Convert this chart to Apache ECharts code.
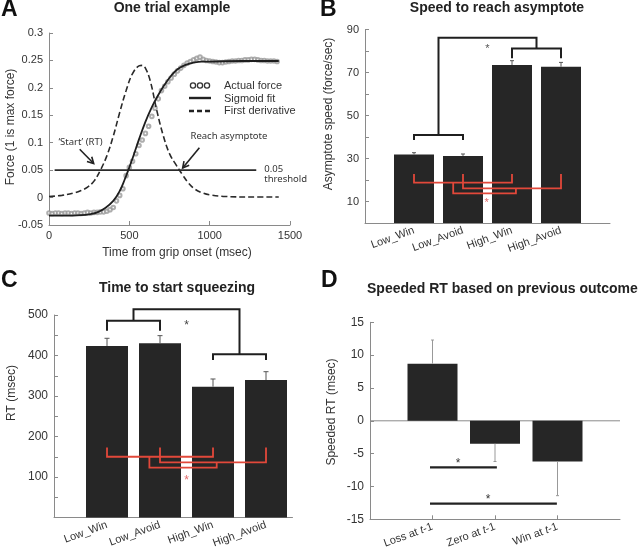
<!DOCTYPE html>
<html><head><meta charset="utf-8">
<script src="https://cdn.jsdelivr.net/npm/echarts@6/dist/echarts.min.js"></script>
<style>html,body{margin:0;padding:0;background:#fff}#c{width:640px;height:551px}</style>
</head><body><div id="c"></div>
<script>
// ---------- Panel A: One trial example ----------
const aActualForce = [
[0,-0.028],[20,-0.029],[40,-0.028],[60,-0.028],[80,-0.029],[100,-0.028],[120,-0.028],[140,-0.029],[160,-0.028],[180,-0.028],
[200,-0.029],[220,-0.028],[240,-0.027],[260,-0.028],[280,-0.027],[300,-0.027],[320,-0.026],[340,-0.026],[360,-0.025],[380,-0.022],
[400,-0.018],[420,-0.006],[440,0.004],[460,0.016],[480,0.040],[500,0.055],[520,0.066],[540,0.080],[560,0.095],[580,0.105],
[600,0.117],[620,0.130],[640,0.148],[660,0.163],[680,0.180],[700,0.195],[720,0.203],[740,0.211],[760,0.218],[780,0.225],
[800,0.231],[820,0.236],[840,0.241],[860,0.245],[880,0.248],[900,0.251],[920,0.254],[940,0.256],[960,0.252],[980,0.250],
[1000,0.249],[1020,0.248],[1040,0.247],[1060,0.246],[1080,0.246],[1100,0.247],[1120,0.248],[1140,0.249],[1160,0.249],[1180,0.250],
[1200,0.250],[1220,0.251],[1240,0.251],[1260,0.252],[1280,0.252],[1300,0.251],[1320,0.250],[1340,0.250],[1360,0.249],[1380,0.249],
[1400,0.249],[1420,0.248]];
const aSigmoidFit = [[0,-0.033],[100,-0.033],[200,-0.032],[260,-0.030],[300,-0.027],[350,-0.019],[400,-0.006],[440,0.012],[470,0.032],
[500,0.055],[530,0.080],[560,0.106],[600,0.138],[640,0.165],[680,0.187],[720,0.206],[760,0.222],[800,0.234],[850,0.242],[900,0.246],
[950,0.248],[1000,0.248],[1200,0.249],[1430,0.249]];
const aFirstDerivative = [[0,0.002],[80,0.004],[150,0.008],[200,0.013],[240,0.019],[280,0.030],[320,0.050],[360,0.076],[400,0.112],
[440,0.155],[480,0.195],[520,0.226],[560,0.240],[580,0.241],[600,0.236],[630,0.213],[670,0.160],[710,0.114],[750,0.080],[790,0.060],
[830,0.042],[870,0.026],[910,0.015],[960,0.008],[1000,0.005],[1100,0.002],[1250,0.001],[1430,0.001]];
const aThreshold = [[35,0.05],[1290,0.05]];
const aArrows = [[191,0.088,278,0.062],[936,0.091,832,0.054]];
const aNotes = [
  {text:'\u2018Start\u2019 (RT)', pos:[196,0.100], align:'center'},
  {text:'Reach asymptote', pos:[1120,0.1125], align:'center'},
  {text:'0.05', pos:[1340,0.051], align:'left'},
  {text:'threshold', pos:[1340,0.033], align:'left'}
];
const aLegendLabels = ['Actual force','Sigmoid fit','First derivative'];

// ---------- Panel B: Speed to reach asymptote ----------
const bCategories = ['Low_Win','Low_Avoid','High_Win','High_Avoid'];
const bValues = [31.9, 31.2, 73.5, 72.7];
const bErrTop = [32.7, 32.1, 75.5, 74.7];
const bBlackBrackets = [
  [[1,38.6],[1,40.9],[2,40.9],[2,38.6]],
  [[1.5,40.9],[1.5,86.2],[3.5,86.2],[3.5,81.2]],
  [[3,76.6],[3,81.2],[4,81.2],[4,76.6]]
];
const bRedBrackets = [
  [[1,22.8],[1,18.8],[3,18.8],[3,22.8]],
  [[2,22.8],[2,16.1],[4,16.1],[4,22.8]],
  [[1.8,18.8],[1.8,13.8],[3.08,13.8],[3.08,16.1]]
];
const bBlackStar = [[2.5,82.5]];
const bRedStar = [[2.48,10.7]];

// ---------- Panel C: Time to start squeezing ----------
const cCategories = ['Low_Win','Low_Avoid','High_Win','High_Avoid'];
const cValues = [423.5, 430, 323, 339.5];
const cErrTop = [442.5, 449, 342, 360];
const cBlackBrackets = [
  [[1,461],[1,486],[2,486],[2,461]],
  [[1.5,486],[1.5,514],[3.5,514],[3.5,403]],
  [[3,389],[3,403],[4,403],[4,389]]
];
const cRedBrackets = [
  [[1,173],[1,150],[3,150],[3,173]],
  [[2,173],[2,136],[4,136],[4,173]],
  [[1.8,150],[1.8,123],[3.07,123],[3.07,136]]
];
const cBlackStar = [[2.5,482]];
const cRedStar = [[2.5,99]];

// ---------- Panel D: Speeded RT based on previous outcome ----------
const dCategories = ['Loss at t-1','Zero at t-1','Win at t-1'];
const dValues = [8.7, -3.5, -6.2];
const dErrEnd = [12.3, -6.2, -11.4];
const dSigLines = [[[0.96,-7.1],[2.03,-7.1]], [[0.96,-12.6],[2.99,-12.6]]];
const dStars = [[1.41,-6.1],[1.89,-11.55]];
const dZeroLine = [[0,0],[4,0]];

// ---------- helpers ----------
const FONT = '"Liberation Sans", Arial, sans-serif';
const AXC = '#8a8a8a', TXT = '#333';
const RED = '#e2483a';

function errorSeries(gi, data, color, capHalf, lw) {
  return {type:'custom', xAxisIndex:gi, yAxisIndex:gi, data:data, encode:{x:0, y:[1,2]}, z:3, silent:true, clip:false,
    renderItem:function(params, api){
      const a = api.coord([api.value(0), api.value(1)]);
      const b = api.coord([api.value(0), api.value(2)]);
      return {type:'group', children:[
        {type:'line', shape:{x1:a[0],y1:a[1],x2:b[0],y2:b[1]}, style:{stroke:color, lineWidth:lw}},
        {type:'line', shape:{x1:b[0]-capHalf,y1:b[1],x2:b[0]+capHalf,y2:b[1]}, style:{stroke:color, lineWidth:lw}}
      ]};
    }};
}
function arrowSeries(gi, data, color, lw) {
  return {type:'custom', xAxisIndex:gi, yAxisIndex:gi, data:data, z:8, silent:true, clip:false,
    renderItem:function(params, api){
      const a = api.coord([api.value(0), api.value(1)]);
      const b = api.coord([api.value(2), api.value(3)]);
      const ang = Math.atan2(b[1]-a[1], b[0]-a[0]);
      const L = 7, w = 0.5;
      const p1 = [b[0] - L*Math.cos(ang - w), b[1] - L*Math.sin(ang - w)];
      const p2 = [b[0] - L*Math.cos(ang + w), b[1] - L*Math.sin(ang + w)];
      return {type:'group', children:[
        {type:'line', shape:{x1:a[0],y1:a[1],x2:b[0],y2:b[1]}, style:{stroke:color, lineWidth:lw}},
        {type:'polyline', shape:{points:[p1, b, p2]}, style:{stroke:color, fill:'none', lineWidth:lw}}
      ]};
    }};
}
function lineSeries(gi, pts, color, width, extra) {
  return Object.assign({type:'line', xAxisIndex:gi, yAxisIndex:gi, data:pts, symbol:'none', showSymbol:false, silent:true, clip:false,
    lineStyle:{color:color, width:width, join:'miter', cap:'butt'}, z:5, animation:false}, extra || {});
}
function textSeries(gi, pts, texts, color, font, dy, aligns) {
  return {type:'custom', xAxisIndex:gi, yAxisIndex:gi, data:pts, z:10, silent:true, clip:false,
    renderItem:function(params, api){
      const p = api.coord([api.value(0), api.value(1)]);
      return {type:'text', x:p[0], y:p[1] + dy, style:{text:texts[params.dataIndex], fill:color, font:font,
        textAlign: aligns ? aligns[params.dataIndex] : 'center', textVerticalAlign:'middle'}};
    }};
}
function barSeries(gi, vals, width) {
  return {type:'bar', xAxisIndex:gi, yAxisIndex:gi, barWidth:width, silent:true,
    itemStyle:{color:'#262626'}, data: vals.map((v,i)=>[i+1, v]), z:2};
}
function yAxisBase(gi, min, max, interval, fmt, fs) {
  return {gridIndex:gi, type:'value', min:min, max:max, interval:interval,
    axisLine:{show:true, onZero:false, lineStyle:{color:AXC, width:1}},
    axisTick:{show:true, inside:true, length:4, lineStyle:{color:AXC}},
    splitLine:{show:false},
    axisLabel:{fontSize:fs, color:TXT, margin:6, fontFamily:FONT, formatter:fmt}};
}
function catXAxis(gi, max, cats, fs, rich) {
  return {gridIndex:gi, type:'value', min:0, max:max, interval:1,
    axisLine:{show:true, onZero:false, lineStyle:{color:AXC}},
    axisTick:{show:false}, splitLine:{show:false},
    axisLabel:{rotate:20, fontSize:fs, color:TXT, margin:7, fontFamily:FONT, rich:rich,
      formatter:function(v){ return (Number.isInteger(v) && cats[v-1]) ? cats[v-1] : ''; }}};
}

const series = [];
// Panel A
series.push(lineSeries(0, aThreshold, '#2a2a2a', 1.6));
series.push(lineSeries(0, aFirstDerivative, '#2a2a2a', 1.6, {smooth:0.4, lineStyle:{color:'#2a2a2a', width:1.6, type:[6,3]}}));
series.push({type:'scatter', xAxisIndex:0, yAxisIndex:0, data:aActualForce, symbol:'emptyCircle', symbolSize:3.6, silent:true,
  itemStyle:{color:'#9a9a9a', borderColor:'#9a9a9a', borderWidth:0.7}, z:4});
series.push(lineSeries(0, aSigmoidFit, '#1e1e1e', 1.8, {smooth:0.4, z:6}));
series.push(arrowSeries(0, aArrows, '#222', 1.6));
series.push(textSeries(0, aNotes.map(n=>n.pos), aNotes.map(n=>n.text), '#333', '9.5px "Noto Sans", sans-serif', 0, aNotes.map(n=>n.align)));
// Panel B
series.push(barSeries(1, bValues, 40));
series.push(errorSeries(1, bValues.map((v,i)=>[i+1, v, bErrTop[i]]), '#555', 2, 1));
bBlackBrackets.forEach(b => series.push(lineSeries(1, b, '#1f1f1f', 2)));
bRedBrackets.forEach(b => series.push(lineSeries(1, b, RED, 1.8)));
series.push(textSeries(1, bBlackStar, ['*'], '#555', '11px ' + FONT, 3));
series.push(textSeries(1, bRedStar, ['*'], '#e36a6a', '11px ' + FONT, 3));
// Panel C
series.push(barSeries(2, cValues, 42));
series.push(errorSeries(2, cValues.map((v,i)=>[i+1, v, cErrTop[i]]), '#555', 2.5, 1));
cBlackBrackets.forEach(b => series.push(lineSeries(2, b, '#1f1f1f', 2)));
cRedBrackets.forEach(b => series.push(lineSeries(2, b, RED, 1.8)));
series.push(textSeries(2, cBlackStar, ['*'], '#444', '12px ' + FONT, 3));
series.push(textSeries(2, cRedStar, ['*'], '#e36a6a', '12px ' + FONT, 3));
// Panel D
series.push(lineSeries(3, dZeroLine, '#8a8a8a', 1, {z:1}));
series.push(barSeries(3, dValues, 50));
series.push(errorSeries(3, dValues.map((v,i)=>[i+1, v, dErrEnd[i]]), '#999', 1.5, 1));
dSigLines.forEach(l => series.push(lineSeries(3, l, '#222', 2.2)));
series.push(textSeries(3, dStars, ['*','*'], '#333', '12px ' + FONT, 3));

const graphic = [];
function gtext(txt, x, y, font, opts) {
  opts = opts || {};
  graphic.push({type:'text', x:x, y:y, rotation: opts.rot || 0, silent:true,
    style:{text:txt, font:font, fill: opts.color || '#222', textAlign: opts.align || 'center', textVerticalAlign:'middle'}});
}
// panel letters
gtext('A', 1, 10, 'bold 23px ' + FONT, {align:'left', color:'#111'});
gtext('B', 320, 10, 'bold 23px ' + FONT, {align:'left', color:'#111'});
gtext('C', 1, 281, 'bold 23px ' + FONT, {align:'left', color:'#111'});
gtext('D', 321, 281, 'bold 23px ' + FONT, {align:'left', color:'#111'});
// titles
gtext('One trial example', 172, 8, 'bold 14px ' + FONT);
gtext('Speed to reach asymptote', 497, 8, 'bold 14px ' + FONT);
gtext('Time to start squeezing', 177, 288, 'bold 14px ' + FONT);
gtext('Speeded RT based on previous outcome', 367, 289, 'bold 14px ' + FONT, {align:'left'});
// axis names
gtext('Force (1 is max force)', 11, 127, '12px ' + FONT, {rot:Math.PI/2, color:TXT});
gtext('Time from grip onset (msec)', 177, 253, '12px ' + FONT, {color:TXT});
gtext('Asymptote speed (force/sec)', 329, 114, '12px ' + FONT, {rot:Math.PI/2, color:TXT});
gtext('RT (msec)', 12, 393, '12px ' + FONT, {rot:Math.PI/2, color:TXT});
gtext('Speeded RT (msec)', 332, 412, '12px ' + FONT, {rot:Math.PI/2, color:TXT});
// legend of panel A
[193, 200, 207].forEach(cx => graphic.push({type:'circle', silent:true, shape:{cx:cx, cy:85.5, r:2.6},
  style:{fill:'none', stroke:'#333', lineWidth:1.3}}));
graphic.push({type:'line', silent:true, shape:{x1:189, y1:98, x2:211, y2:98}, style:{stroke:'#222', lineWidth:2.4}});
graphic.push({type:'line', silent:true, shape:{x1:189, y1:111, x2:211, y2:111}, style:{stroke:'#222', lineWidth:2.4, lineDash:[5,3]}});
aLegendLabels.forEach((t,i) => gtext(t, 224, [86, 98.5, 111][i], '11px ' + FONT, {align:'left', color:TXT}));

const option = {
  animation:false,
  textStyle:{fontFamily:FONT},
  grid:[
    {left:49, top:33, width:241, height:192, outerBoundsMode:'none', containLabel:false},
    {left:365, top:29.5, width:245, height:193.5, outerBoundsMode:'none', containLabel:false},
    {left:54, top:315, width:238.5, height:202.5, outerBoundsMode:'none', containLabel:false},
    {left:370, top:322.3, width:250, height:197, outerBoundsMode:'none', containLabel:false}
  ],
  xAxis:[
    {gridIndex:0, type:'value', min:0, max:1500, interval:500,
      axisLine:{show:true, onZero:false, lineStyle:{color:AXC}},
      axisTick:{show:true, inside:true, length:4, lineStyle:{color:AXC}}, splitLine:{show:false},
      axisLabel:{fontSize:11, color:TXT, margin:5, fontFamily:FONT, formatter: v => String(Math.round(v))}},
    catXAxis(1, 5, bCategories, 11),
    catXAxis(2, 4.5, cCategories, 11),
    {gridIndex:3, type:'value', min:0, max:4, interval:1,
      axisLine:{show:true, onZero:false, lineStyle:{color:AXC}},
      axisTick:{show:true, inside:true, length:4, lineStyle:{color:AXC}, customValues:[1,2,3]},
      splitLine:{show:false},
      axisLabel:{rotate:20, fontSize:11, color:TXT, margin:7, fontFamily:FONT, customValues:[1,2,3],
        rich:{i:{fontStyle:'italic', fontSize:11, color:TXT, fontFamily:FONT}},
        formatter:function(v){ const c = dCategories[Math.round(v)-1]; return c ? c.replace(' t-1', ' {i|t}-1') : ''; }}}
  ],
  yAxis:[
    yAxisBase(0, -0.05, 0.3, 0.05, v => String(Math.round(v*100)/100), 11),
    yAxisBase(1, 0, 90, 10, v => (Math.round(v) % 20 === 10 ? String(Math.round(v)) : ''), 11),
    yAxisBase(2, 0, 500, 50, v => (Math.round(v) % 100 === 0 && v > 0 ? String(Math.round(v)) : ''), 12),
    yAxisBase(3, -15, 15, 5, v => String(Math.round(v)), 12)
  ],
  series:series,
  graphic:graphic
};
const chart = echarts.init(document.getElementById('c'), null, {renderer:'canvas'});
chart.setOption(option);
</script>
</body></html>
